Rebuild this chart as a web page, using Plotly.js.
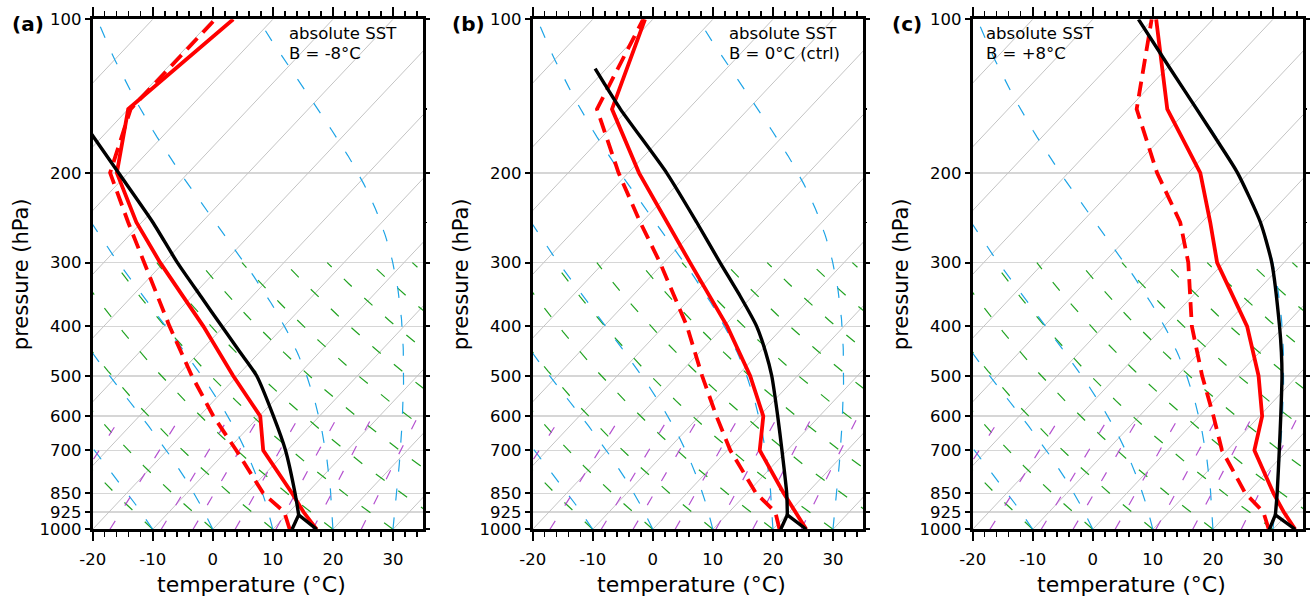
<!DOCTYPE html>
<html><head><meta charset="utf-8">
<script src="https://cdn.plot.ly/plotly-3.0.1.min.js"></script>
<style>html,body{margin:0;padding:0;background:#fff;}#chart{width:1314px;height:598px;}</style>
</head><body><div id="chart"></div>
<script>
// ---------------- data (temperatures in °C, pressure in hPa) ----------------
const pressureTicks = [100,200,300,400,500,600,700,850,925,1000];
const pressureMinor = [150,250];
const tempTicks = [-20,-10,0,10,20,30];
const panelLabels = ['(a)','(b)','(c)'];
const panelNotes = ['B = -8°C','B = 0°C (ctrl)','B = +8°C'];
const noteTitle = 'absolute SST';
const xTitle = 'temperature (°C)';
const yTitle = 'pressure (hPa)';

const levels = [1000,925,850,700,600,500,400,300,250,200,150,100];
// (a) B = -8°C
const tempA = [17.3,12.4,7.55,-4.0,-9.85,-20.7,-33.4,-50.6,-60.9,-71.9,-80.0,-76.6];
const dewA  = [12.8,9.19,2.75,-8.49,-17.65,-27.58,-39.04,-53.23,-62.26,-73.02,-79.6,-79.6];
// (b) B = 0°C (ctrl)
const tempB = [25.55,20.99,16.15,5.41,0.65,-7.88,-19.44,-35.63,-45.86,-58.22,-72.71,-81.3];
const dewB  = [21.1,17.69,11.55,0.51,-7.15,-15.88,-26.14,-40.63,-50.26,-61.62,-75.21,-81.6];
// (c) B = +8°C
const tempC = [33.7,29.09,24.45,14.51,10.45,3.52,-6.14,-21.13,-28.61,-38.02,-53.51,-69.45];
const dewC  = [29.3,25.69,19.75,9.11,2.35,-5.88,-15.34,-25.93,-33.61,-45.22,-58.61,-70.2];

// parcel (black) curves: surface dew-point leg to the LCL, then the parcel ascent
const lclLevels = [1000,937];
const lclLegA = [13.2,12.04];
const lclLegB = [21.3,20.14];
const lclLegC = [29.4,28.14];
const parcelLevelsA = [1000,937,850,700,600,500,450,400,350,300,250,200,150];
const parcelA = [17.3,12.04,8.05,-0.29,-7.65,-16.78,-23.17,-30.34,-38.42,-47.73,-58.16,-71.62,-89.0];
const parcelLevelsB = [1000,937,850,700,600,500,450,400,350,300,250,200,150,125];
const parcelB = [25.55,20.14,16.65,9.11,3.05,-4.28,-8.94,-14.54,-21.87,-30.63,-40.86,-53.62,-71.31,-81.85];
const parcelLevelsC = [1000,937,850,700,600,500,450,400,300,250,200,175,150,125,100];
const parcelC = [33.7,28.14,25.05,18.66,13.55,7.42,3.66,-0.74,-12.03,-20.26,-31.82,-39.56,-48.61,-59.35,-72.4];

// background diagram families
const isothermValues = [-100,-90,-80,-70,-60,-50,-40,-30,-20,-10,0,10,20,30,40];
const dryAdiabatValues = [-30,-20,-10,0,10,20,30,40,50,60,70,80,90,100,110,120];
const moistAdiabatValues = [-30,-20,-10,0,10,20,30,40];
const mixingRatioValues = [0.4,1,2,3,5,8,12,20];

// ---------------- skew-T helpers ----------------
const SKEW = 80; // °C shift per decade of pressure
function skewX(T,p){ return T + SKEW*Math.log10(1000/p); }
function esat(Tc){ return 6.112*Math.exp(17.67*Tc/(Tc+243.5)); }

function isotherms(){
  const x=[],y=[];
  isothermValues.forEach(T=>{ [1000,100].forEach(p=>{x.push(skewX(T,p));y.push(p);}); x.push(null);y.push(null);});
  return {x,y};
}
function dryAdiabats(){
  const x=[],y=[];
  dryAdiabatValues.forEach(th=>{
    for(let p=1000;p>=300;p-=10){ const T=(th+273.15)*Math.pow(p/1000,0.2857)-273.15; x.push(skewX(T,p)); y.push(p);} x.push(null);y.push(null);
  });
  return {x,y};
}
function dTdp(Tk,p){
  const Rd=287.04,cp=1005.7,L=2.501e6,eps=0.622;
  const es=esat(Tk-273.15), rs=eps*es/(p-es);
  return (Rd*Tk+L*rs)/(p*(cp+L*L*rs*eps/(Rd*Tk*Tk)));
}
function moistAdiabats(){
  const x=[],y=[];
  moistAdiabatValues.forEach(tw=>{
    let T=tw+273.15, p=1000; const h=-5;
    x.push(skewX(T-273.15,p)); y.push(p);
    while(p>100){
      const k1=dTdp(T,p),k2=dTdp(T+h*k1/2,p+h/2),k3=dTdp(T+h*k2/2,p+h/2),k4=dTdp(T+h*k3,p+h);
      T+=h*(k1+2*k2+2*k3+k4)/6; p+=h;
      x.push(skewX(T-273.15,p)); y.push(p);
    }
    x.push(null);y.push(null);
  });
  return {x,y};
}
function mixingLines(){
  const x=[],y=[];
  mixingRatioValues.forEach(r=>{
    for(let p=1000;p>=600;p-=10){
      const e=(r/1000)*p/(0.622+r/1000), g=Math.log(e/6.112), Td=243.5*g/(17.67-g);
      x.push(skewX(Td,p)); y.push(p);
    }
    x.push(null);y.push(null);
  });
  return {x,y};
}

const panels = [
  {temp:tempA,dew:dewA,lcl:lclLegA,pl:parcelLevelsA,parcel:parcelA},
  {temp:tempB,dew:dewB,lcl:lclLegB,pl:parcelLevelsB,parcel:parcelB},
  {temp:tempC,dew:dewC,lcl:lclLegC,pl:parcelLevelsC,parcel:parcelC}
];

const W=1314,H=598, plotTop=19.3, plotBot=529.3;
const lefts=[92.7,532.7,972.7], pw=330.3;
const ydom=[(H-plotBot)/H,(H-plotTop)/H];
const FONT='DejaVu Sans';

const traces=[], layout={width:W,height:H,margin:{l:0,r:0,t:0,b:0},showlegend:false,
  paper_bgcolor:'#fff',plot_bgcolor:'#fff',font:{family:FONT,color:'#000',size:16},annotations:[]};

const iso=isotherms(), dry=dryAdiabats(), moist=moistAdiabats(), mix=mixingLines();

panels.forEach((pd,i)=>{
  const xa=i===0?'x':'x'+(i+1), ya=i===0?'y':'y'+(i+1);
  const sk=(arr,lev)=>arr.map((T,k)=>skewX(T,lev[k]));
  const common={xaxis:xa,yaxis:ya,mode:'lines',hoverinfo:'skip',showlegend:false};
  traces.push(Object.assign({x:iso.x,y:iso.y,line:{color:'#c4c4c4',width:1}},common));
  traces.push(Object.assign({x:dry.x,y:dry.y,line:{color:'#22a322',width:1.2,dash:'11px,17px'}},common));
  traces.push(Object.assign({x:moist.x,y:moist.y,line:{color:'#1ea4e6',width:1.2,dash:'12px,17px'}},common));
  traces.push(Object.assign({x:mix.x,y:mix.y,line:{color:'#b553d0',width:1.2,dash:'10px,18px'}},common));
  traces.push(Object.assign({x:sk(pd.dew,levels),y:levels,line:{color:'#ff0000',width:3.8,dash:'15px,8px'}},common));
  traces.push(Object.assign({x:sk(pd.temp,levels),y:levels,line:{color:'#ff0000',width:3.8}},common));
  // Λ at the bottom: dew-point leg up to LCL and back down the dry leg to the surface temperature
  traces.push(Object.assign({x:[skewX(pd.lcl[0],lclLevels[0]),skewX(pd.lcl[1],lclLevels[1]),skewX(pd.parcel[0],pd.pl[0])],
    y:[lclLevels[0],lclLevels[1],pd.pl[0]],line:{color:'#000',width:3.4}},common));
  // ascent above the LCL
  const up=pd.parcel.slice(1), upl=pd.pl.slice(1);
  traces.push(Object.assign({x:sk(up,upl),y:upl,line:{color:'#000',width:3.4,shape:'spline',smoothing:0.6}},common));
  // right-side tick axis
  const yr='y'+(i+4);
  traces.push({x:[],y:[],xaxis:xa,yaxis:yr,mode:'lines',showlegend:false,hoverinfo:'skip'});

  const xd=[lefts[i]/W,(lefts[i]+pw)/W];
  layout['xaxis'+(i===0?'':i+1)]={domain:xd,anchor:ya,range:[-20,35],showgrid:false,zeroline:false,
    showline:true,linewidth:3,linecolor:'#000',mirror:'ticks',ticks:'outside',ticklen:9,tickwidth:2,tickcolor:'#000',
    tickmode:'array',tickvals:tempTicks,ticktext:tempTicks.map(v=>String(v)),ticklabelstandoff:4,
    tickfont:{family:FONT,size:16.5,color:'#000'},
    minor:{tickmode:'linear',tick0:-20,dtick:2,ticks:'outside',ticklen:5,tickwidth:1.5,tickcolor:'#000',showgrid:false}};
  layout['yaxis'+(i===0?'':i+1)]={domain:ydom,anchor:xa,type:'log',range:[3,2],zeroline:false,
    showline:true,linewidth:3,linecolor:'#000',mirror:true,ticks:'outside',ticklen:5,tickwidth:2,tickcolor:'#000',
    tickmode:'array',tickvals:pressureTicks,ticktext:pressureTicks.map(v=>String(v)),
    showgrid:true,gridcolor:'#d6d6d6',gridwidth:1.5,
    tickfont:{family:FONT,size:16.5,color:'#000'},
    title:{text:yTitle,font:{family:FONT,size:21,color:'#000'},standoff:6}};
  layout['yaxis'+(i+4)]={overlaying:ya,anchor:xa,side:'right',type:'log',range:[3,2],showline:false,showgrid:false,zeroline:false,
    ticks:'outside',ticklen:6,tickwidth:2,tickcolor:'#000',tickmode:'array',tickvals:pressureTicks,showticklabels:false,
    minor:{tickmode:'array',tickvals:pressureMinor,ticks:'outside',ticklen:3,tickwidth:1.5,tickcolor:'#000',showgrid:false}};

  layout.annotations.push({xref:'paper',yref:'paper',x:(lefts[i]-83)/W,y:1-24/H,xanchor:'left',yanchor:'middle',
    text:'<b>'+panelLabels[i]+'</b>',showarrow:false,font:{family:FONT,size:20,color:'#000'}});
  const nx = i===2 ? lefts[i]+11.5 : lefts[i]+194.5;
  layout.annotations.push({xref:'paper',yref:'paper',x:nx/W,y:1-34/H,xanchor:'left',yanchor:'middle',
    text:noteTitle,showarrow:false,font:{family:FONT,size:16.5,color:'#000'}});
  layout.annotations.push({xref:'paper',yref:'paper',x:nx/W,y:1-53/H,xanchor:'left',yanchor:'middle',
    text:panelNotes[i],showarrow:false,font:{family:FONT,size:16.5,color:'#000'}});
  // x-axis title (sits slightly left of the panel centre, as in the reference)
  layout.annotations.push({xref:'paper',yref:'paper',x:(lefts[i]+pw/2-6.5)/W,y:1-584/H,xanchor:'center',yanchor:'middle',
    text:xTitle,showarrow:false,font:{family:FONT,size:22,color:'#000'}});
});

Plotly.newPlot('chart',traces,layout,{staticPlot:true,displayModeBar:false});
</script></body></html>
